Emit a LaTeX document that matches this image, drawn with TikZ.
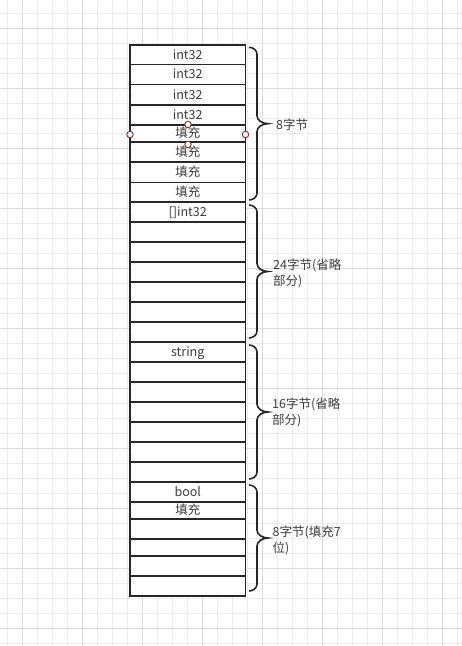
\documentclass[tikz,border=0pt]{standalone}
\usepackage{fontspec}
\newfontfamily\cjk{Noto Sans CJK SC}
\definecolor{gridminor}{RGB}{236,236,236}
\definecolor{gridmajor}{RGB}{220,220,220}
\definecolor{linecol}{RGB}{38,38,38}
\definecolor{textcol}{RGB}{60,60,60}
\definecolor{handlecol}{RGB}{140,40,40}
\tikzset{
  cell/.style={draw=linecol, line width=1.6pt, fill=white, minimum width=115.5pt,
    inner sep=0pt, outer sep=0pt, text=textcol, text height=9pt, text depth=0pt,
    font=\cjk\fontsize{12.5}{15}\selectfont},
  bracestyle/.style={draw=linecol, line width=1.6pt},
  sizelabel/.style={anchor=west, align=left, inner sep=0pt, text=textcol,
    font=\cjk\fontsize{12.5}{16}\selectfont},
  handle/.style={circle, draw=handlecol, fill=white, line width=0.9pt,
    minimum size=6.5pt, inner sep=0pt},
}
% curly brace right of a group: top y, bottom y
\newcommand{\membrace}[2]{%
  \pgfmathsetmacro{\bmid}{(#1+#2)/2}%
  \draw[bracestyle] (249,#1) .. controls (253.4,#1) and (257,#1+3.2) .. (257,#1+7)
    -- (257,\bmid-8) .. controls (257,\bmid-3.6) and (262,\bmid) .. (268,\bmid)
    .. controls (262,\bmid) and (257,\bmid+3.6) .. (257,\bmid+8)
    -- (257,#2-7) .. controls (257,#2-3.2) and (253.4,#2) .. (249,#2);}
\begin{document}
\begin{tikzpicture}[x=1pt, y=-1pt]
  \useasboundingbox (0,0) rectangle (462,646);
  % background grid
  \foreach \k in {0,...,30} \draw[gridminor, line width=0.9pt] ({7.3+15*\k},0) -- ({7.3+15*\k},646);
  \foreach \k in {0,...,42} \draw[gridminor, line width=0.9pt] (0,{13.3+15*\k}) -- (462,{13.3+15*\k});
  \foreach \k in {0,...,7} \draw[gridmajor, line width=0.9pt] ({22.3+60*\k},0) -- ({22.3+60*\k},646);
  \foreach \k in {0,...,10} \draw[gridmajor, line width=0.9pt] (0,{28.3+60*\k}) -- (462,{28.3+60*\k});
  % struct fields, one row per byte slot
  \foreach \n/\t/\b/\txt in {1/45/64.3/int32, 2/64.3/84.3/int32, 3/84.3/105/int32, 4/105/125/int32,
      5/125/141.7/填充, 6/141.7/161.7/填充, 7/161.7/182.3/填充, 8/182.3/201.7/填充,
      9/201.7/221.7/{[]int32}, 10/221.7/241.7/{}, 11/241.7/261.7/{}, 12/261.7/281.7/{},
      13/281.7/301.7/{}, 14/301.7/321.7/{}, 15/321.7/341.7/{},
      16/341.7/361.7/string, 17/361.7/381.7/{}, 18/381.7/401.7/{}, 19/401.7/421.7/{},
      20/421.7/441.7/{}, 21/441.7/461.7/{}, 22/461.7/481.7/{},
      23/481.7/501.7/bool, 24/501.7/519/填充, 25/519/539/{}, 26/539/555.7/{},
      27/555.7/575.7/{}, 28/575.7/595.7/{}}
    \node[cell, minimum height={\b-\t}] (r\n) at (187.75,{(\t+\b)/2}) {\txt};
  % selection handles on the fifth row
  \node[handle] (hn) at (188,124.5) {};
  \node[handle] (hs) at (188,144.5) {};
  \node[handle] (hw) at (130,134.5) {};
  \node[handle] (he) at (245.5,134.5) {};
  % group braces
  \membrace{47.3}{200}
  \membrace{205}{338}
  \membrace{345}{479}
  \membrace{485}{591}
  % size labels
  \node[sizelabel] (l1) at (276,124.5) {8字节};
  \node[sizelabel] (l2) at (273,273) {24字节(省略\\部分)};
  \node[sizelabel] (l3) at (272,412.5) {16字节(省略\\部分)};
  \node[sizelabel] (l4) at (272.5,540) {8字节(填充7\\位)};
\end{tikzpicture}
\end{document}
